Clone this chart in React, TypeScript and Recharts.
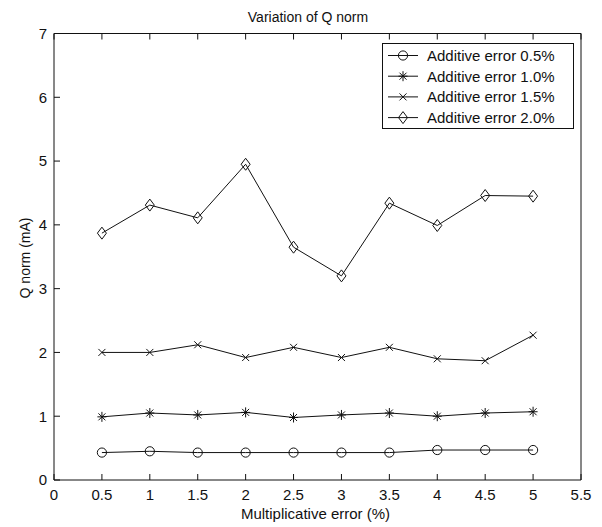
import React from 'react';
import { LineChart, Line, XAxis, YAxis, Legend, Label } from 'recharts';

const xValues = [0.5, 1, 1.5, 2, 2.5, 3, 3.5, 4, 4.5, 5];
const add05 = [0.43, 0.45, 0.43, 0.43, 0.43, 0.43, 0.43, 0.47, 0.47, 0.47];
const add10 = [0.99, 1.05, 1.02, 1.06, 0.98, 1.02, 1.05, 1.0, 1.05, 1.07];
const add15 = [2.0, 2.0, 2.12, 1.92, 2.08, 1.92, 2.08, 1.9, 1.87, 2.27];
const add20 = [3.87, 4.31, 4.11, 4.95, 3.65, 3.2, 4.34, 3.99, 4.46, 4.45];

const xTicks = [0, 0.5, 1, 1.5, 2, 2.5, 3, 3.5, 4, 4.5, 5, 5.5];
const yTicks = [0, 1, 2, 3, 4, 5, 6, 7];

const seriesNames = ['Additive error 0.5%', 'Additive error 1.0%', 'Additive error 1.5%', 'Additive error 2.0%'];
const seriesKeys = ['a05', 'a10', 'a15', 'a20'];
const seriesMarkers = ['circle', 'star', 'cross', 'diamond'];

const data = xValues.map((x, i) => ({ x, a05: add05[i], a10: add10[i], a15: add15[i], a20: add20[i] }));

const FONT = '"Liberation Sans", Arial, Helvetica, sans-serif';
const INK = '#111';
const TICK_LEN = 6;

function drawMarker(type: string, cx: number, cy: number, key?: any) {
  const common = { stroke: INK, strokeWidth: 1, fill: 'none' };
  if (type === 'circle') {
    return <circle key={key} cx={cx} cy={cy} r={4.6} {...common} />;
  }
  if (type === 'star') {
    return (
      <g key={key} {...common}>
        <line x1={cx} y1={cy - 5} x2={cx} y2={cy + 5} />
        <line x1={cx - 4.5} y1={cy} x2={cx + 4.5} y2={cy} />
        <line x1={cx - 3.5} y1={cy - 3.5} x2={cx + 3.5} y2={cy + 3.5} />
        <line x1={cx - 3.5} y1={cy + 3.5} x2={cx + 3.5} y2={cy - 3.5} />
      </g>
    );
  }
  if (type === 'cross') {
    return (
      <g key={key} {...common}>
        <line x1={cx - 3.5} y1={cy - 3.5} x2={cx + 3.5} y2={cy + 3.5} />
        <line x1={cx - 3.5} y1={cy + 3.5} x2={cx + 3.5} y2={cy - 3.5} />
      </g>
    );
  }
  return (
    <polygon
      key={key}
      points={`${cx},${cy - 6} ${cx + 4.5},${cy} ${cx},${cy + 6} ${cx - 4.5},${cy}`}
      {...common}
    />
  );
}

const makeDot = (type: string) => (props: any) => {
  const { cx, cy, index } = props;
  if (cx == null || cy == null) return <g key={`e-${type}-${index}`} />;
  return drawMarker(type, cx, cy, `${type}-${index}`);
};

const BottomTick = (props: any) => {
  const { x, y, payload } = props;
  return (
    <g>
      <line x1={x} y1={y - 9} x2={x} y2={y - 9 - TICK_LEN} stroke={INK} strokeWidth={1} />
      <text x={x} y={y} dy="0.71em" textAnchor="middle" fontFamily={FONT} fontSize={15} fill={INK}>
        {payload.value}
      </text>
    </g>
  );
};

const LeftTick = (props: any) => {
  const { x, y, payload } = props;
  return (
    <g>
      <line x1={x + 7} y1={y} x2={x + 7 + TICK_LEN} y2={y} stroke={INK} strokeWidth={1} />
      <text x={x} y={y} dy="0.355em" textAnchor="end" fontFamily={FONT} fontSize={15} fill={INK}>
        {payload.value}
      </text>
    </g>
  );
};

const TopTick = (props: any) => {
  const { x, y } = props;
  return <line x1={x} y1={y} x2={x} y2={y + TICK_LEN} stroke={INK} strokeWidth={1} />;
};

const RightTick = (props: any) => {
  const { x, y } = props;
  return <line x1={x} y1={y} x2={x - TICK_LEN} y2={y} stroke={INK} strokeWidth={1} />;
};

const LegendBox = () => (
  <svg width={193} height={87} style={{ display: 'block' }}>
    <rect x={0.5} y={0.5} width={191} height={85} fill="#fff" stroke={INK} strokeWidth={1} />
    {seriesNames.map((name, i) => {
      const cy = 12.5 + i * 20.7;
      return (
        <g key={name}>
          <line x1={6} y1={cy} x2={36} y2={cy} stroke={INK} strokeWidth={1} />
          {drawMarker(seriesMarkers[i], 21, cy)}
          <text x={45} y={cy} dominantBaseline="central" fontFamily={FONT} fontSize={15} fill={INK}>
            {name}
          </text>
        </g>
      );
    })}
  </svg>
);

export default function App() {
  return (
    <div style={{ position: 'absolute', left: 0, top: 0, width: 602, height: 527, background: '#fff' }}>
      <LineChart
        width={602}
        height={527}
        data={data}
        margin={{ top: 32.5, right: 20, bottom: 7, left: 14 }}
        style={{ fontFamily: FONT }}
      >
        <XAxis
          xAxisId="bottom"
          dataKey="x"
          type="number"
          domain={[0, 5.5]}
          ticks={xTicks}
          orientation="bottom"
          height={40}
          tickSize={0}
          tickMargin={9}
          axisLine={{ stroke: INK, strokeWidth: 1 }}
          tickLine={false}
          tick={BottomTick}
          interval={0}
        >
          <Label
            content={(p: any) => {
              const vb = p.viewBox;
              return (
                <text x={315.5} y={vb.y + vb.height - 1} textAnchor="middle" fontFamily={FONT} fontSize={15} fill={INK}>
                  Multiplicative error (%)
                </text>
              );
            }}
          />
        </XAxis>
        <XAxis
          xAxisId="top"
          dataKey="x"
          type="number"
          domain={[0, 5.5]}
          ticks={xTicks}
          orientation="top"
          height={1}
          tickSize={0}
          tickMargin={0}
          tick={TopTick}
          interval={0}
          axisLine={{ stroke: INK, strokeWidth: 1 }}
          tickLine={false}
        >
          <Label
            content={() => (
              <text x={308} y={22} textAnchor="middle" fontFamily={FONT} fontSize={14} fill={INK}>
                Variation of Q norm
              </text>
            )}
          />
        </XAxis>
        <YAxis
          yAxisId="left"
          type="number"
          domain={[0, 7]}
          ticks={yTicks}
          orientation="left"
          width={40}
          tickSize={0}
          tickMargin={7}
          interval={0}
          axisLine={{ stroke: INK, strokeWidth: 1 }}
          tickLine={false}
          tick={LeftTick}
        >
          <Label
            content={() => (
              <text
                x={25}
                y={258}
                textAnchor="middle"
                dominantBaseline="central"
                transform="rotate(-90 25 258)"
                fontFamily={FONT}
                fontSize={14}
                fill={INK}
              >
                Q norm (mA)
              </text>
            )}
          />
        </YAxis>
        <YAxis
          yAxisId="right"
          type="number"
          domain={[0, 7]}
          ticks={yTicks}
          orientation="right"
          width={1}
          tickSize={0}
          tickMargin={0}
          tick={RightTick}
          interval={0}
          axisLine={{ stroke: INK, strokeWidth: 1 }}
          tickLine={false}
        />
        <Legend
          layout="horizontal"
          verticalAlign="middle"
          align="center"
          content={() => <LegendBox />}
          wrapperStyle={{ position: 'absolute', left: 382, top: 43, width: 193, height: 87 }}
        />
        {seriesKeys.map((k, i) => (
          <Line
            key={k}
            xAxisId="bottom"
            yAxisId="left"
            type="linear"
            dataKey={k}
            name={seriesNames[i]}
            stroke={INK}
            strokeWidth={1}
            dot={makeDot(seriesMarkers[i])}
            activeDot={false}
            isAnimationActive={false}
          />
        ))}
      </LineChart>
    </div>
  );
}
